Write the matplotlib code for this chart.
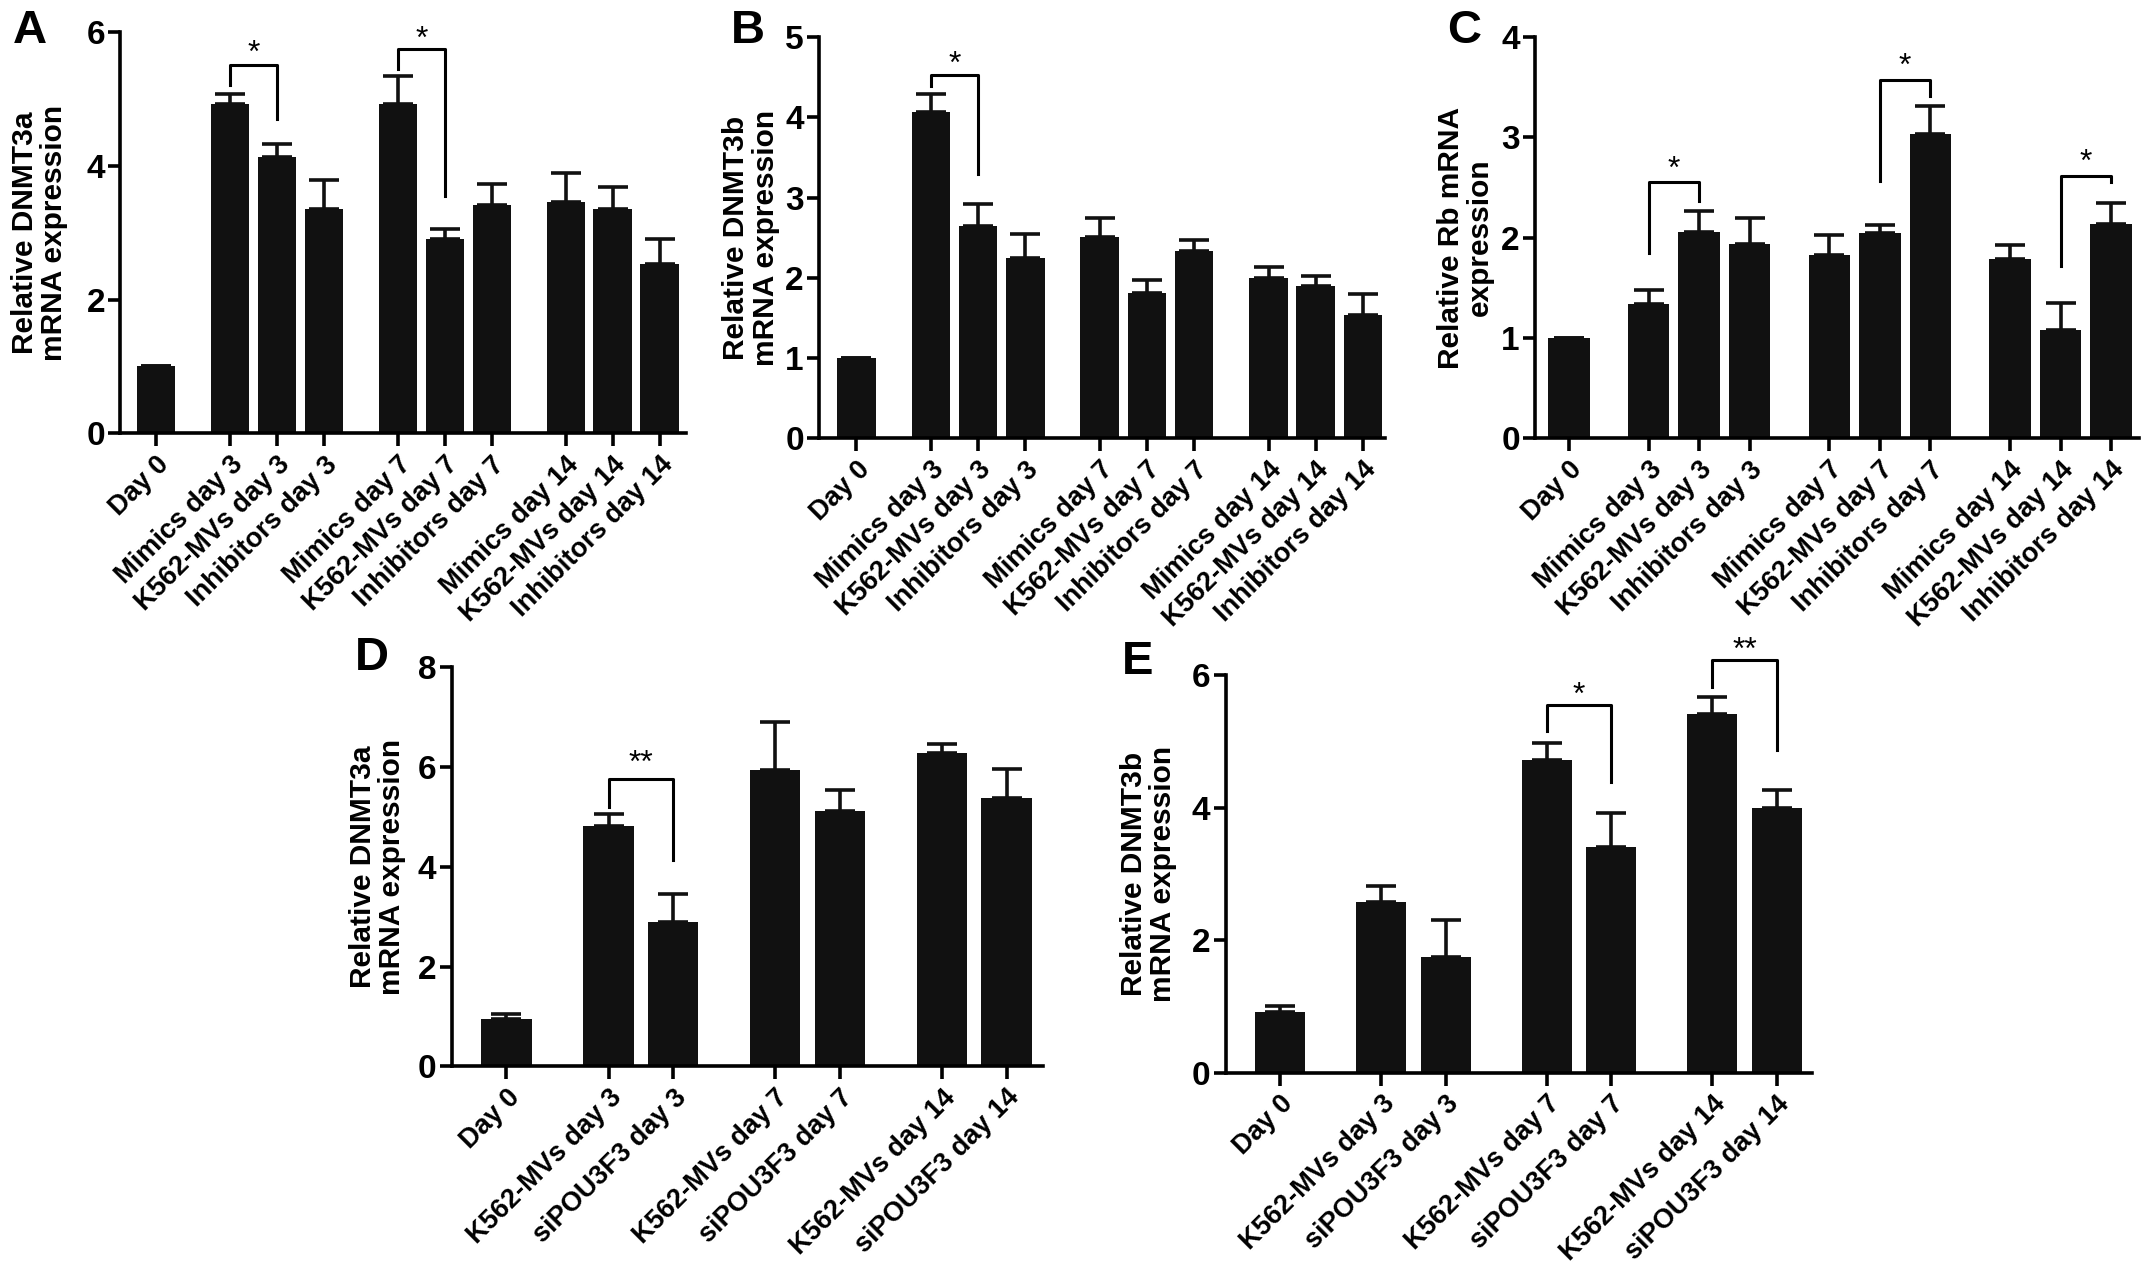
import numpy as np
import matplotlib
matplotlib.use("Agg")
import matplotlib.pyplot as plt

plt.rcParams.update({
    "font.family": ["Liberation Sans", "DejaVu Sans"],
    "font.weight": "bold",
    "axes.linewidth": 2.6,
    "xtick.major.width": 2.6,
    "ytick.major.width": 2.6,
    "xtick.major.size": 9,
    "ytick.major.size": 9,
})

# ---------------------------------------------------------------- data
LABELS_ABC = ["Day 0",
              "Mimics day 3", "K562-MVs day 3", "Inhibitors day 3",
              "Mimics day 7", "K562-MVs day 7", "Inhibitors day 7",
              "Mimics day 14", "K562-MVs day 14", "Inhibitors day 14"]
LABELS_DE = ["Day 0",
             "K562-MVs day 3", "siPOU3F3 day 3",
             "K562-MVs day 7", "siPOU3F3 day 7",
             "K562-MVs day 14", "siPOU3F3 day 14"]

A_mean = [1.00, 4.92, 4.13, 3.35, 4.92, 2.91, 3.41, 3.46, 3.35, 2.53]
A_err = [0.00, 0.15, 0.19, 0.43, 0.42, 0.14, 0.32, 0.43, 0.33, 0.37]
B_mean = [1.00, 4.07, 2.65, 2.25, 2.51, 1.81, 2.33, 2.00, 1.90, 1.54]
B_err = [0.00, 0.22, 0.27, 0.29, 0.23, 0.16, 0.14, 0.14, 0.12, 0.26]
C_mean = [1.00, 1.34, 2.06, 1.94, 1.83, 2.05, 3.03, 1.79, 1.08, 2.14]
C_err = [0.00, 0.14, 0.21, 0.26, 0.20, 0.08, 0.28, 0.14, 0.27, 0.21]
D_mean = [0.95, 4.81, 2.90, 5.95, 5.12, 6.28, 5.37]
D_err = [0.10, 0.24, 0.56, 0.95, 0.42, 0.19, 0.60]
E_mean = [0.92, 2.58, 1.75, 4.71, 3.41, 5.41, 3.99]
E_err = [0.08, 0.23, 0.56, 0.26, 0.50, 0.25, 0.28]

# brackets: (left bar, right bar, left foot, right foot, top, star centre, text)
A_sig = [(1, 2, 5.21, 4.70, 5.50, 5.82, "*"), (4, 5, 5.45, 3.54, 5.74, 6.03, "*")]
B_sig = [(1, 2, 4.39, 3.29, 4.52, 4.78, "*")]
C_sig = [(1, 2, 1.85, 2.37, 2.55, 2.78, "*"), (5, 6, 2.56, 3.41, 3.57, 3.80, "*"),
         (8, 9, 1.72, 2.55, 2.61, 2.84, "*")]
D_sig = [(1, 2, 5.20, 4.14, 5.77, 6.27, "**")]
E_sig = [(3, 4, 5.16, 4.39, 5.55, 5.83, "*"), (5, 6, 5.82, 4.87, 6.23, 6.51, "**")]

GAP = 1.58
BAR_W = 0.82
BAR_COLOR = "#111111"


def positions(n_groups, group_size):
    pos = [0.0]
    x = GAP
    for g in range(n_groups):
        for k in range(group_size):
            pos.append(x + k)
        x += group_size - 1 + GAP
    return np.array(pos)


def panel(rect, letter, letter_xy, means, errs, labels, pos, ylim, yticks,
          ylabel, sig, xlim, width=BAR_W, label_x=-0.08):
    ax = fig.add_axes(rect)
    ax.bar(pos, means, width, color=BAR_COLOR, zorder=2)
    lower = np.zeros(len(errs))
    ax.errorbar(pos, means, yerr=[lower, errs], fmt="none", ecolor=BAR_COLOR,
                elinewidth=2.6, capsize=11, capthick=2.6, zorder=1)
    for s in ["top", "right"]:
        ax.spines[s].set_visible(False)
    ax.set_xlim(*xlim)
    ax.set_ylim(*ylim)
    ax.set_yticks(yticks)
    ax.set_xticks(pos)
    ax.set_xticklabels(labels, rotation=45, ha="right", rotation_mode="anchor",
                       fontsize=19.5, fontweight="bold")
    ax.tick_params(axis="y", labelsize=24, pad=2)
    ax.tick_params(axis="x", pad=4)
    for t in ax.get_yticklabels():
        t.set_fontweight("bold")
    ax.set_ylabel(ylabel, fontsize=21.5, fontweight="bold", linespacing=1.05)
    ax.yaxis.set_label_coords(label_x, 0.5)
    for li, ri, lf, rf, top, sc, txt in sig:
        xl, xr = pos[li], pos[ri]
        ax.plot([xl, xl, xr, xr], [lf, top, top, rf], color="black", lw=2.2,
                clip_on=False, zorder=3)
        ax.annotate(txt, ((xl + xr) / 2, sc), xytext=(0, -13),
                    textcoords="offset points", ha="center", va="baseline",
                    fontsize=23, fontweight="normal", annotation_clip=False)
    fig.text(letter_xy[0], letter_xy[1], letter, fontsize=34, fontweight="bold",
             ha="center", va="center")
    return ax


fig = plt.figure(figsize=(21.5, 12.71), dpi=100)

pos_abc = positions(3, 3)
pos_de = positions(3, 2)

panel([0.056, 0.659, 0.263, 0.316], "A", (0.014, 0.976), A_mean, A_err,
      LABELS_ABC, pos_abc, (0, 6), [0, 2, 4, 6],
      "Relative DNMT3a\nmRNA expression", A_sig, (-0.76, 11.3), label_x=-0.092)
panel([0.381, 0.655, 0.263, 0.316], "B", (0.348, 0.976), B_mean, B_err,
      LABELS_ABC, pos_abc, (0, 5), [0, 1, 2, 3, 4, 5],
      "Relative DNMT3b\nmRNA expression", B_sig, (-0.79, 11.2), label_x=-0.07)
panel([0.714, 0.655, 0.281, 0.316], "C", (0.681, 0.976), C_mean, C_err,
      LABELS_ABC, pos_abc, (0, 4), [0, 1, 2, 3, 4],
      "Relative Rb mRNA\nexpression", C_sig, (-0.67, 11.3), label_x=-0.068)
panel([0.210, 0.161, 0.275, 0.314], "D", (0.173, 0.482), D_mean, D_err,
      LABELS_DE, pos_de, (0, 8), [0, 2, 4, 6, 8],
      "Relative DNMT3a\nmRNA expression", D_sig, (-0.85, 8.3), width=0.78,
      label_x=-0.077)
panel([0.570, 0.156, 0.273, 0.313], "E", (0.529, 0.479), E_mean, E_err,
      LABELS_DE, pos_de, (0, 6), [0, 2, 4, 6],
      "Relative DNMT3b\nmRNA expression", E_sig, (-0.85, 8.3), width=0.78,
      label_x=-0.082)

fig.savefig("out.png", dpi=100, facecolor="white")
